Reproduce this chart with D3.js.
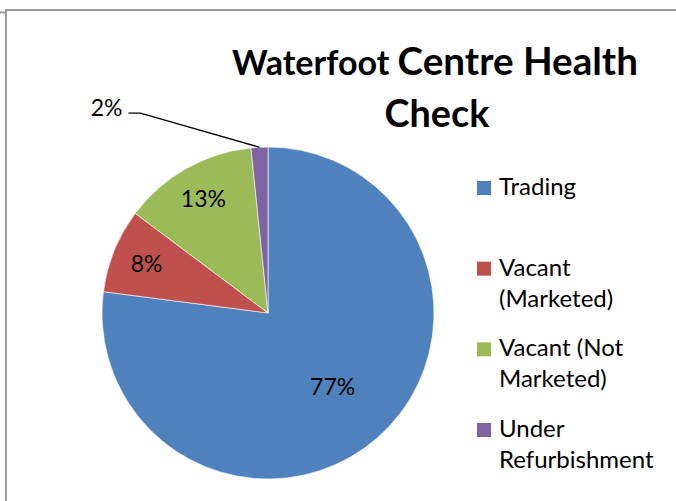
<!DOCTYPE html>
<html>
<head>
<meta charset="utf-8">
<script src="https://cdn.jsdelivr.net/npm/d3@7"></script>
<style>
  body { margin: 0; background: #fff; }
  svg { display: block; font-family: Lato, "Open Sans", sans-serif; }
</style>
</head>
<body>
<svg id="chart" width="676" height="501"></svg>
<script>
// shop units by status (counts, 61 in total)
var categories = ["Trading", "Vacant (Marketed)", "Vacant (Not Marketed)", "Under Refurbishment"];
var values = [47, 5, 8, 1];
var colors = ["#4F81BD", "#C0504D", "#9BBB59", "#8064A2"];
// legend text split over lines as in the original
var legendLines = [["Trading"], ["Vacant", "(Marketed)"], ["Vacant (Not", "Marketed)"], ["Under", "Refurbishment"]];

var width = 676, height = 501,
    cx = 268, cy = 313, radius = 166;

var svg = d3.select("#chart");

// frame of the chart area (only top and left edges are in view)
svg.append("path")
  .attr("d", "M6,501V10H676 M0,12.5H6")
  .attr("fill", "none")
  .attr("stroke", "#9a9a9a")
  .attr("stroke-width", 2);

// fit a text element to a target width by scaling its font sizes
function fitWidth(text, target) {
  var w = text.node().getComputedTextLength();
  var k = target / w;
  text.selectAll("tspan").each(function() {
    var t = d3.select(this);
    t.attr("font-size", parseFloat(t.attr("font-size")) * k);
  });
  if (text.attr("font-size")) text.attr("font-size", parseFloat(text.attr("font-size")) * k);
}

// title
var t1 = svg.append("text")
  .attr("x", 435).attr("y", 75)
  .attr("text-anchor", "middle")
  .attr("font-weight", "bold")
  .attr("fill", "#000");
t1.append("tspan").attr("font-size", 30).text("Waterfoot ");
t1.append("tspan").attr("font-size", 34).text("Centre Health");
fitWidth(t1, 406);

var t2 = svg.append("text")
  .attr("x", 437).attr("y", 127)
  .attr("text-anchor", "middle")
  .attr("font-weight", "bold")
  .attr("font-size", 34)
  .attr("fill", "#000")
  .text("Check");
fitWidth(t2, 105);

// pie, starting at 12 o'clock and going clockwise
var pie = d3.pie().sort(null).value(d => d);
var arcs = pie(values);
var total = d3.sum(values);
var pct = d3.format(".0%");

var arc = d3.arc().innerRadius(0).outerRadius(radius);

var g = svg.append("g").attr("transform", `translate(${cx},${cy})`);

g.selectAll("path.slice")
  .data(arcs)
  .enter().append("path")
  .attr("class", "slice")
  .attr("d", arc)
  .attr("fill", (d, i) => colors[i])
  .attr("stroke", "#fff")
  .attr("stroke-width", 0.6);

// data labels: inside for the bigger slices, with a leader line for the tiny one
var labelFont = 23;
arcs.forEach(function(d, i) {
  var share = d.value / total;
  var mid = (d.startAngle + d.endAngle) / 2;
  if (share >= 0.05) {
    var lr = share > 0.5 ? radius * 0.59 : radius * 0.79;
    g.append("text")
      .attr("x", lr * Math.sin(mid))
      .attr("y", -lr * Math.cos(mid))
      .attr("dy", "0.35em")
      .attr("text-anchor", "middle")
      .attr("font-size", labelFont)
      .attr("fill", "#000")
      .text(pct(share));
  } else {
    var ex = radius * Math.sin(mid), ey = -radius * Math.cos(mid);
    var kx = ex - 119, ky = ey - 34;
    g.append("path")
      .attr("d", `M${ex},${ey}L${kx},${ky}H${kx - 12}`)
      .attr("fill", "none")
      .attr("stroke", "#000")
      .attr("stroke-width", 1.3);
    g.append("text")
      .attr("x", kx - 18)
      .attr("y", ky)
      .attr("dy", "0.1em")
      .attr("text-anchor", "end")
      .attr("font-size", labelFont)
      .attr("fill", "#000")
      .text(pct(share));
  }
});

// legend
var legendY = d3.scalePoint().domain(categories).range([195, 437]);
var legend = svg.append("g");
categories.forEach(function(c, i) {
  var y = legendY(c);
  legend.append("rect")
    .attr("x", 477).attr("y", y - 14)
    .attr("width", 14).attr("height", 14)
    .attr("fill", colors[i]);
  var txt = legend.append("text")
    .attr("x", 499).attr("y", y)
    .attr("font-size", 24)
    .attr("fill", "#000");
  legendLines[i].forEach(function(line, j) {
    txt.append("tspan").attr("x", 499).attr("y", y + j * 31).text(line);
  });
});
</script>
</body>
</html>
